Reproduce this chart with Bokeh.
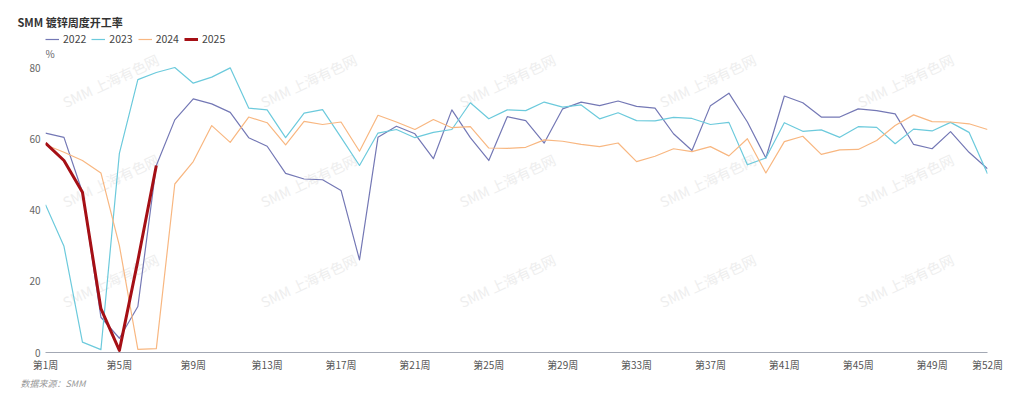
from bokeh.plotting import figure
from bokeh.models import (Range1d, FixedTicker, Legend, LegendItem, Label,
                          ColumnDataSource, Title)
from bokeh.embed import file_html
from bokeh.resources import INLINE
from bokeh.core.properties import value

# ---------------- data ----------------
weeks = list(range(1, 53))
y2022 = [61.6, 60.4, 45.0, 9.9, 4.0, 12.9, 52.5, 65.3, 71.2, 69.8,
         67.4, 60.3, 57.9, 50.3, 48.7, 48.5, 45.5, 26.0, 60.4, 63.5,
         61.4, 54.4, 68.1, 60.3, 53.9, 66.2, 65.1, 58.8, 68.4, 70.3,
         69.3, 70.6, 69.1, 68.6, 61.4, 56.7, 69.3, 72.8, 64.7, 54.6,
         72.0, 70.1, 66.1, 66.1, 68.4, 67.9, 67.0, 58.4, 57.2, 62.0,
         56.2, 51.6]
y2023 = [41.5, 29.8, 2.9, 0.8, 55.9, 76.6, 78.6, 80.0, 75.6, 77.3,
         79.9, 68.6, 68.1, 60.3, 67.2, 68.2, 60.4, 52.5, 61.6, 62.6,
         60.3, 61.8, 62.6, 70.1, 65.6, 68.1, 67.9, 70.3, 68.9, 69.5,
         65.6, 67.3, 65.1, 65.0, 66.0, 65.7, 64.0, 64.6, 52.7, 54.6,
         64.5, 62.1, 62.5, 60.4, 63.4, 63.2, 58.6, 62.7, 62.2, 64.6,
         61.8, 50.2]
y2024 = [58.3, 56.2, 53.9, 50.4, 30.0, 0.9, 1.1, 47.3, 53.6, 63.7,
         59.0, 66.1, 64.5, 58.3, 64.9, 64.0, 64.7, 56.5, 66.6, 64.7,
         62.6, 65.4, 63.1, 63.4, 57.4, 57.3, 57.6, 59.7, 59.3, 58.4,
         57.8, 58.8, 53.6, 55.1, 57.2, 56.4, 57.8, 55.2, 60.0, 50.4,
         59.2, 60.7, 55.6, 56.9, 57.0, 59.5, 63.7, 66.7, 64.8, 64.7,
         64.2, 62.6]
y2025 = [58.8, 53.9, 45.0, 12.3, 0.6, 25.8, 52.5]

series_names = ["2022", "2023", "2024", "2025"]
x_tick_weeks = [1, 5, 9, 13, 17, 21, 25, 29, 33, 37, 41, 45, 49, 52]
y_ticks = [0, 20, 40, 60, 80]
title_text = "SMM 镀锌周度开工率"
source_text = "数据来源：SMM"
unit_text = "%"
watermark_text = "SMM 上海有色网"

# ---------------- styling ----------------
FONT = "Noto Sans CJK SC"
colors = ["#7478b5", "#6ccadc", "#f8b781", "#a50f15"]
widths = [1.2, 1.2, 1.2, 3]

p = figure(frame_width=942, frame_height=322, output_backend="svg",
           toolbar_location=None,
           x_range=Range1d(1, 52), y_range=Range1d(0, 90.39),
           min_border_left=45, min_border_right=37,
           min_border_top=30, min_border_bottom=0)
p.outline_line_color = None
p.xgrid.visible = False
p.ygrid.visible = False
p.background_fill_color = "white"
p.border_fill_color = "white"

p.title.text = title_text
p.title.align = "left"
p.title.offset = -28
p.title.standoff = 2
p.title.text_font = FONT
p.title.text_font_size = "11px"
p.title.text_font_style = "bold"
p.title.text_color = "#333333"

# watermark (decorative)
wm_x, wm_y = [], []
for cx in [4.52, 15.24, 26.0, 36.85, 47.56]:
    for cy in [76.35, 48.3, 20.2]:
        wm_x.append(cx)
        wm_y.append(cy)
p.text(x=wm_x, y=wm_y, text=[watermark_text] * len(wm_x), angle=0.44,
       text_align="center", text_baseline="middle",
       text_font=value(FONT), text_font_size="14px", text_color="#eeeeee")

renderers = []
for name, ys, c, w in zip(series_names, [y2022, y2023, y2024, y2025], colors, widths):
    src = ColumnDataSource(dict(x=weeks[:len(ys)], y=ys))
    r = p.line("x", "y", source=src, line_color=c, line_width=w, line_join="round")
    renderers.append((name, r))

# axes
xa = p.xaxis[0]
xa.ticker = FixedTicker(ticks=x_tick_weeks)
xa.major_label_overrides = {w: f"第{w}周" for w in x_tick_weeks}
xa.axis_line_color = "#a3a8b4"
xa.axis_line_width = 1.2
xa.major_tick_line_color = None
xa.minor_tick_line_color = None
xa.major_tick_out = 0
xa.major_tick_in = 0
xa.major_label_standoff = 4
xa.major_label_text_font = FONT
xa.major_label_text_font_size = "10px"
xa.major_label_text_color = "#555555"

ya = p.yaxis[0]
ya.ticker = FixedTicker(ticks=y_ticks)
ya.axis_line_color = None
ya.major_tick_line_color = None
ya.minor_tick_line_color = None
ya.major_tick_out = 0
ya.major_tick_in = 0
ya.major_label_standoff = 5
ya.major_label_text_font = FONT
ya.major_label_text_font_size = "10px"
ya.major_label_text_color = "#666666"

# legend (inside the frame, top-left)
legend = Legend(items=[LegendItem(label=n, renderers=[r]) for n, r in renderers],
                location=(0, 306), orientation="horizontal",
                glyph_width=14, glyph_height=14, label_height=14,
                label_standoff=4, spacing=5, padding=0, margin=0,
                border_line_color=None, background_fill_alpha=0,
                label_text_font=FONT, label_text_font_size="10.5px",
                label_text_color="#444444")
p.add_layout(legend, "center")

# source note below the axis
p.add_layout(Title(text=source_text, align="left", offset=-25, standoff=0,
                   text_font=FONT, text_font_size="9px", text_font_style="italic",
                   text_color="#999999"), "below")

# unit label inside the frame, above the top tick
p.add_layout(Label(x=1, y=80, x_offset=0, y_offset=14, text=unit_text,
                   text_font=FONT, text_font_size="10px", text_color="#666666",
                   text_baseline="middle", text_align="left"))

open("out.html", "w").write(file_html(p, INLINE))
